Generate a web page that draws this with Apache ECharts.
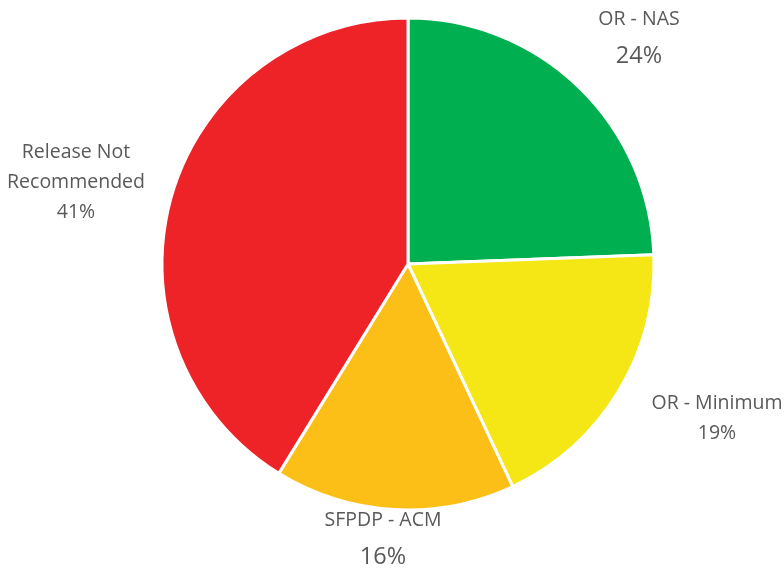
<!DOCTYPE html>
<html lang="en">
<head>
    <meta charset="UTF-8">
    <title>Release status</title>
    <style>
        body { margin: 0; padding: 0; background: #fff; }
        #main { width: 784px; height: 570px; }
    </style>
</head>
<body>
    <div id="main"></div>
    <script src="https://cdn.jsdelivr.net/npm/echarts@6/dist/echarts.min.js"></script>
    <script>
        var names = ['OR - NAS', 'OR - Minimum', 'SFPDP - ACM', 'Release Not Recommended'];
        var labelText = ['OR - NAS', 'OR - Minimum', 'SFPDP - ACM', 'Release Not\nRecommended'];
        // shares; labels show the rounded percent
        var values = [24.4, 18.6, 15.8, 41.2];
        var colors = ['#00B050', '#F5E616', '#FCBF17', '#EE2327'];

        // label anchor (center of label block) per slice, picked to match the original
        var labelPos = [[639, 41], [717, 418], [383, 542], [76, 182]];
        var bigPct = [true, false, true, false];

        var chart = echarts.init(document.getElementById('main'));

        var data = names.map(function (n, i) {
            var pct = Math.round(values[i]) + '%';
            return {
                name: n,
                value: values[i],
                itemStyle: { color: colors[i] },
                label: {
                    formatter: labelText[i].split('\n').map(function (t) { return '{n|' + t + '}'; }).join('\n') +
                        '\n' + (bigPct[i] ? '{b|' + pct + '}' : '{p|' + pct + '}')
                }
            };
        });

        var txt = '#595959';
        var font = 'Open Sans';

        var option = {
            animation: false,
            series: [{
                type: 'pie',
                center: [408, 264],
                radius: 246,
                startAngle: 90,
                clockwise: true,
                data: data,
                itemStyle: { borderColor: '#fff', borderWidth: 3 },
                labelLine: { show: false },
                label: {
                    show: true,
                    position: 'outside',
                    align: 'center',
                    overflow: 'none',
                    color: txt,
                    fontFamily: font,
                    rich: {
                        n: { fontSize: 19.5, lineHeight: 30, color: txt, fontFamily: font, align: 'center' },
                        p: { fontSize: 19.5, lineHeight: 30, color: txt, fontFamily: font, align: 'center' },
                        b: { fontSize: 23.5, lineHeight: 44, color: txt, fontFamily: font, align: 'center' }
                    }
                },
                labelLayout: function (params) {
                    var p = labelPos[params.dataIndex];
                    return {
                        x: p[0],
                        y: p[1],
                        align: 'center',
                        verticalAlign: 'middle'
                    };
                }
            }]
        };

        chart.setOption(option);
    </script>
</body>
</html>
